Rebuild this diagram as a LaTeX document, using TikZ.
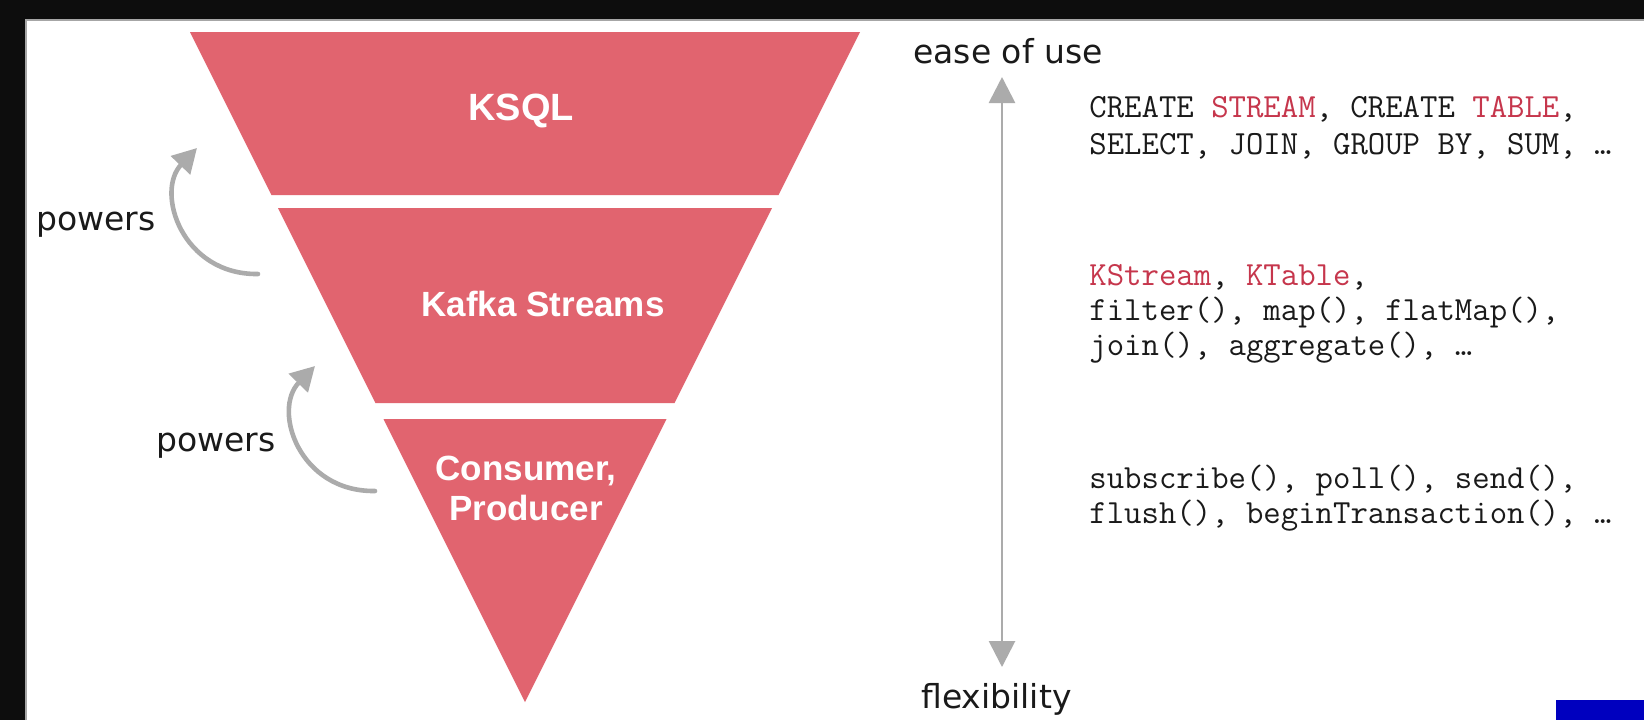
\documentclass[tikz,border=0pt]{standalone}
\usepackage{fontspec}
\setmainfont{DejaVu Sans}
\newfontfamily\labelfont{Liberation Sans}
\usetikzlibrary{arrows.meta}
\definecolor{pyr}{HTML}{E1646F}
\definecolor{kred}{HTML}{C6364C}
\definecolor{arrgray}{HTML}{ABABAB}
\definecolor{txt}{HTML}{1A1A1A}
\tikzset{
  layer/.style={fill=pyr, draw=none},
  layerlabel/.style={text=white, font=\labelfont\bfseries\fontsize{17.5pt}{20pt}\selectfont, align=center, inner sep=0pt},
  sidelabel/.style={text=txt, font=\fontsize{16.5pt}{19pt}\selectfont, anchor=base west, inner sep=0pt},
  codeline/.style={text=txt, font=\ttfamily\fontsize{16.9pt}{19pt}\selectfont, anchor=base west, inner sep=0pt},
  powarrow/.style={draw=arrgray, line width=2.3pt, line cap=round, -{Triangle[length=12pt,width=13pt]}},
  axisarrow/.style={draw=arrgray, line width=1.4pt, {Triangle[length=13pt,width=13pt]}-{Triangle[length=13pt,width=13pt]}}
}
\begin{document}
\begin{tikzpicture}[x=0.5pt,y=-0.5pt]
\useasboundingbox (0,0) rectangle (1644,720);
% frame
\fill[black!95] (0,0) rectangle (1644,720);
\fill[white] (26,20) rectangle (1644,720);
\draw[gray!70, line width=0.6pt] (26,720) -- (26,20) -- (1644,20);
\fill[blue!75!black] (1556,700) rectangle (1644,720);
% pyramid layers
\fill[layer] (190,32) -- (860,32) -- (778.5,195) -- (271.5,195) -- cycle;
\fill[layer] (278,208) -- (772,208) -- (674.5,403) -- (375.5,403) -- cycle;
\fill[layer] (383.5,419) -- (666.5,419) -- (525,702) -- cycle;
\node[layerlabel, font=\labelfont\bfseries\fontsize{19pt}{20pt}\selectfont] (ksql) at (521,111) {KSQL};
\node[layerlabel] (kstreams) at (543,304) {Kafka Streams};
\node[layerlabel] (client) at (526,488) {Consumer,\\Producer};
% powers arrows
\coordinate (t1) at (258,274);
\coordinate (h1) at (197,148);
\draw[powarrow] (t1) .. controls (182,275) and (155,192) .. (h1);
\coordinate (t2) at (375,491);
\coordinate (h2) at (315,366);
\draw[powarrow] (t2) .. controls (299,492) and (272,410) .. (h2);
\node[sidelabel] (pw1) at (36,230) {powers};
\node[sidelabel] (pw2) at (156,451) {powers};
% axis
\coordinate (atop) at (1002,77);
\coordinate (abot) at (1002,667);
\draw[axisarrow] (abot) -- (atop);
\node[sidelabel] (ease) at (913,63) {ease of use};
\node[sidelabel] (flex) at (921,708) {flexibility};
% code lines
\node[codeline] (c1) at (1089,117) {CREATE \textcolor{kred}{STREAM}, CREATE \textcolor{kred}{TABLE},};
\node[codeline] (c2) at (1089,154) {SELECT, JOIN, GROUP BY, SUM, …};
\node[codeline] (c3) at (1089,285) {\textcolor{kred}{KStream}, \textcolor{kred}{KTable},};
\node[codeline] (c4) at (1089,320) {filter(), map(), flatMap(),};
\node[codeline] (c5) at (1089,355) {join(), aggregate(), …};
\node[codeline] (c6) at (1089,488) {subscribe(), poll(), send(),};
\node[codeline] (c7) at (1089,523) {flush(), beginTransaction(), …};
\end{tikzpicture}
\end{document}
